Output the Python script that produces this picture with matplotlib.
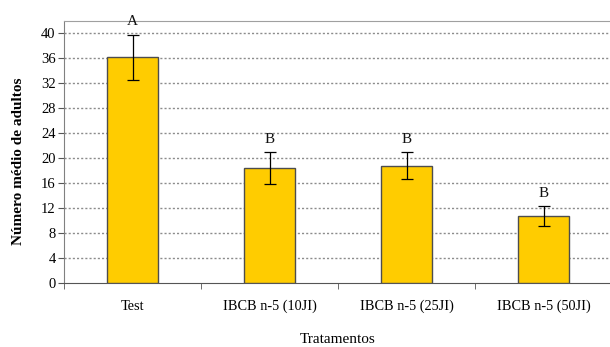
import matplotlib

matplotlib.use("Agg")
import matplotlib.pyplot as plt
import numpy as np

categories = ["Test", "IBCB n-5 (10JI)", "IBCB n-5 (25JI)", "IBCB n-5 (50JI)"]
means = [36.2, 18.4, 18.8, 10.7]
errors = [3.6, 2.6, 2.2, 1.6]
letters = ["A", "B", "B", "B"]

BAR = "#FFCC00"
EDGE = "#4d4d4d"
GRID = "#8c8c8c"

plt.rcParams["font.family"] = ["Liberation Serif", "DejaVu Serif"]

fig = plt.figure(figsize=(6.1, 3.47), dpi=100)
ax = fig.add_axes([64 / 610, 1 - 283 / 347, 548 / 610, 262 / 347])

x = np.arange(len(categories))
ax.bar(x, means, width=0.365, color=BAR, edgecolor=EDGE, lw=1.0, zorder=3)
ax.errorbar(x, means, yerr=errors, fmt="none", ecolor="black", elinewidth=0.9,
            capsize=4, capthick=0.9, zorder=4)
for xi, m, e, t in zip(x, means, errors, letters):
    ax.text(xi, m + e + 1.0, t, ha="center", va="bottom", fontsize=11, color="#111111")

ax.set_xlim(-0.5, len(categories) - 0.5)
ax.set_ylim(0, 42)
ax.set_yticks(np.arange(0, 41, 4))
ax.set_xticks(x)
ax.set_xticklabels(categories)
ax.set_xticks(np.arange(-0.5, len(categories) - 0.5, 1), minor=True)
ax.tick_params(axis="x", which="major", length=0, pad=12, labelsize=10.3)
ax.tick_params(axis="x", which="minor", length=4, color="#555555")
ax.tick_params(axis="y", length=4, color="#555555", labelsize=10.5, pad=2)

for y in np.arange(4, 41, 4):
    ax.axhline(y, color=GRID, lw=1.0, ls=(0, (1.5, 1.5)), zorder=1)

ax.spines["right"].set_visible(False)
ax.spines["top"].set_color("#a0a0a0")
ax.spines["left"].set_color("#808080")
ax.spines["bottom"].set_color("#555555")

ax.set_ylabel("Número médio de adultos", fontsize=11, fontweight="bold")
ax.yaxis.set_label_coords(-0.072, 0.466)
ax.set_xlabel("Tratamentos", fontsize=11, labelpad=14)

fig.savefig("out.png", dpi=100)
